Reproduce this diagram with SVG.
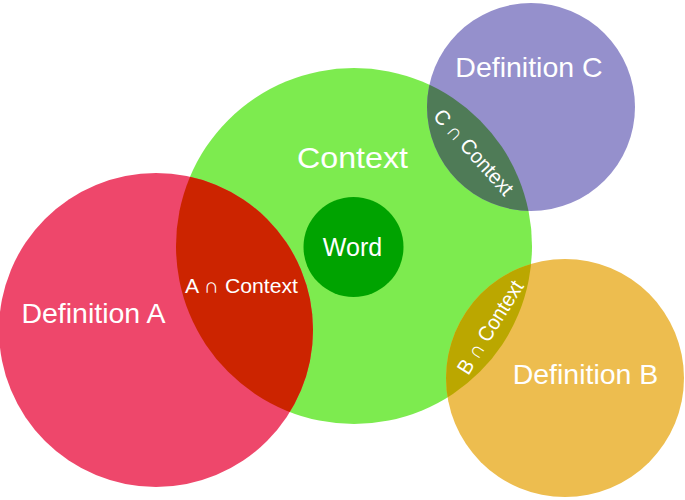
<svg xmlns="http://www.w3.org/2000/svg" width="685" height="500" viewBox="0 0 685 500">
<style>
text{font-family:"Liberation Sans",Arial,"DejaVu Sans",sans-serif;fill:#fff;text-anchor:middle}
.big{font-size:28.5px}
.mid{font-size:21px}
</style>
<defs>
<clipPath id="clipCtx"><circle cx="354" cy="246" r="178"/></clipPath>
</defs>
<rect width="685" height="500" fill="#fff"/>
<g id="context"><circle cx="354" cy="246" r="178" fill="#7DEB4F"/></g>
<g id="defA"><circle cx="156" cy="330" r="157" fill="#EE476B"/></g>
<g id="defC"><circle cx="531" cy="107" r="104" fill="#9590CC"/></g>
<g id="defB"><circle cx="565" cy="378" r="119" fill="#EDBD4F"/></g>
<g id="lensA"><circle cx="156" cy="330" r="157" fill="#CC2400" clip-path="url(#clipCtx)"/></g>
<g id="lensC"><circle cx="531" cy="107" r="104" fill="#4F7B57" clip-path="url(#clipCtx)"/></g>
<g id="lensB"><circle cx="565" cy="378" r="119" fill="#BBA700" clip-path="url(#clipCtx)"/></g>
<g id="word"><circle cx="353.5" cy="247" r="50" fill="#00A300"/></g>
<g id="labels">
<text x="352.5" y="168" style="font-size:30px" textLength="111" lengthAdjust="spacingAndGlyphs">Context</text>
<text class="big" x="93.5" y="323">Definition A</text>
<text class="big" x="529" y="77">Definition C</text>
<text class="big" x="585.5" y="384">Definition B</text>
<text x="352.5" y="256" style="font-size:25px">Word</text>
<text class="mid" x="241.5" y="292.5" textLength="113" lengthAdjust="spacingAndGlyphs">A ∩ Context</text>
<text class="mid" x="474" y="159.5" transform="rotate(48 474 152)" textLength="108" lengthAdjust="spacingAndGlyphs">C ∩ Context</text>
<text class="mid" x="490" y="334.5" transform="rotate(-58 490 327)" textLength="106" lengthAdjust="spacingAndGlyphs">B ∩ Context</text>
</g>
</svg>
